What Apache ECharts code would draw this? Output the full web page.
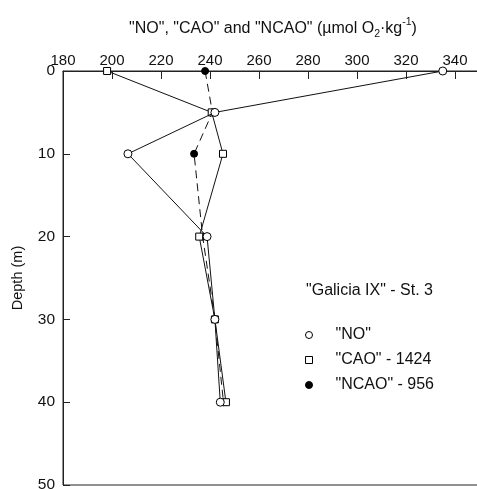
<!DOCTYPE html>
<html>
<head>
<meta charset="utf-8">
<script src="https://cdn.jsdelivr.net/npm/echarts@6/dist/echarts.min.js"></script>
<style>
  html, body { margin: 0; padding: 0; background: #fff; }
  #chart { width: 477px; height: 489px; }
</style>
</head>
<body>
<div id="chart"></div>
<script>
// depth (m) of each sample
const depths = [0, 5, 10, 20, 30, 40];
// "NO", "CAO", "NCAO" values (umol O2/kg)
const noVals = [335, 242, 206.5, 238.8, 242, 244.2];
const caoVals = [198, 240.7, 245.3, 235.6, 242, 246.5];
const ncaoVals = [238, 241, 233.5, 237, 242, 245.5];

const xTicks = [180, 200, 220, 240, 260, 280, 300, 320, 340];

const font = 'Liberation Sans, Arial, sans-serif';

function pairs(vals) {
  return vals.map((v, i) => [v, depths[i]]);
}

const chart = echarts.init(document.getElementById('chart'));

const option = {
  animation: false,
  backgroundColor: '#fff',
  title: [
    {
      text: '"NO", "CAO" and "NCAO" (\u00b5mol O{sub|2}\u00b7kg{sup|-1})',
      left: 268,
      top: 12,
      textAlign: 'center',
      textStyle: {
        fontFamily: font,
        fontSize: 16,
        fontWeight: 'normal',
        color: '#111',
        lineHeight: 23,
        rich: {
          sub: { fontSize: 10.5, fontFamily: font, color: '#111', verticalAlign: 'bottom', lineHeight: 14 },
          sup: { fontSize: 10.5, fontFamily: font, color: '#111', verticalAlign: 'top', lineHeight: 14 }
        }
      }
    },
    {
      text: '"Galicia IX" - St. 3',
      left: 301,
      top: 278,
      textStyle: { fontFamily: font, fontSize: 16, fontWeight: 'normal', color: '#111' }
    }
  ],
  legend: {
    orient: 'vertical',
    left: 300,
    top: 322,
    itemWidth: 7,
    itemHeight: 7,
    itemGap: 9,
    textStyle: { fontFamily: font, fontSize: 16, color: '#111', lineHeight: 16, padding: [0, 0, 0, 18] },
    data: [
      { name: '"NO"', icon: 'circle', itemStyle: { color: '#fff', borderColor: '#000', borderWidth: 1 } },
      { name: '"CAO" - 1424', icon: 'rect', itemStyle: { color: '#fff', borderColor: '#000', borderWidth: 1 } },
      { name: '"NCAO" - 956', icon: 'circle', itemStyle: { color: '#000', borderColor: '#000', borderWidth: 1 } }
    ]
  },
  grid: {
    left: 63,
    top: 71,
    right: -2.5,
    bottom: 4,
    outerBoundsMode: 'none',
    containLabel: false,
    show: true,
    borderColor: '#222',
    borderWidth: 1
  },
  xAxis: {
    type: 'value',
    position: 'top',
    min: 180,
    max: 350,
    interval: 20,
    axisLine: { show: true, lineStyle: { color: '#222', width: 1 } },
    axisTick: { show: true, inside: true, length: 8, lineStyle: { color: '#222' } },
    axisLabel: {
      margin: 3,
      showMaxLabel: false,
      fontFamily: font,
      fontSize: 15,
      color: '#111',
      formatter: v => (xTicks.includes(v) ? String(v) : '')
    },
    splitLine: { show: false }
  },
  yAxis: {
    type: 'value',
    inverse: true,
    min: 0,
    max: 50,
    interval: 10,
    name: 'Depth (m)',
    nameLocation: 'middle',
    nameGap: 38,
    nameTextStyle: { fontFamily: font, fontSize: 14.5, color: '#111' },
    axisLine: { show: true, lineStyle: { color: '#222', width: 1 } },
    axisTick: { show: true, inside: true, length: 7, lineStyle: { color: '#222' } },
    axisLabel: { margin: 8, fontFamily: font, fontSize: 15.5, color: '#111' },
    splitLine: { show: false }
  },
  series: [
    {
      name: '"NCAO" - 956',
      type: 'line',
      data: pairs(ncaoVals),
      symbol: 'circle',
      symbolSize: 7,
      lineStyle: { color: '#111', width: 1, type: [8, 5] },
      itemStyle: { color: '#000', borderColor: '#000', borderWidth: 1 },
      z: 2
    },
    {
      name: '"CAO" - 1424',
      type: 'line',
      data: pairs(caoVals),
      symbol: 'rect',
      symbolSize: 7,
      lineStyle: { color: '#111', width: 1 },
      itemStyle: { color: '#fff', borderColor: '#000', borderWidth: 1 },
      z: 3
    },
    {
      name: '"NO"',
      type: 'line',
      data: pairs(noVals),
      symbol: 'circle',
      symbolSize: 8,
      lineStyle: { color: '#111', width: 1 },
      itemStyle: { color: '#fff', borderColor: '#000', borderWidth: 1 },
      z: 4
    }
  ]
};

chart.setOption(option);
</script>
</body>
</html>
